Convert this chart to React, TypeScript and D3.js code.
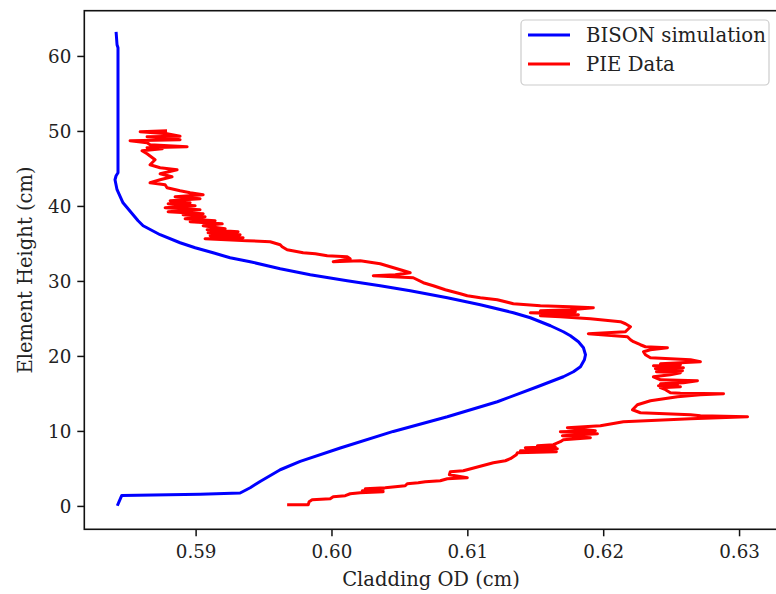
import React from "react";
import * as d3 from "d3";

// ---- Data ----
const bisonOD = [
  0.5842, 0.58433, 0.58453, 0.59029, 0.59324, 0.59398, 0.59471, 0.59619, 0.59766, 0.60061,
  0.60451, 0.60849, 0.61217, 0.61512, 0.61703, 0.61777, 0.61829, 0.61858, 0.61866, 0.61851,
  0.61814, 0.61755, 0.61703, 0.61608, 0.6146, 0.61335, 0.61092, 0.60849, 0.60576, 0.60355,
  0.60112, 0.5984, 0.59619, 0.59398, 0.5925, 0.59125, 0.58993, 0.58882, 0.58735, 0.5861,
  0.58573, 0.58536, 0.58462, 0.58418, 0.58403, 0.58411, 0.58425, 0.58425, 0.58418, 0.58411,
];
const bisonHeight = [
  0.09, 0.63, 1.47, 1.63, 1.79, 2.49, 3.33, 4.89, 6.0, 7.79,
  10.0, 11.96, 13.96, 15.96, 17.29, 17.96, 18.63, 19.56, 20.23, 21.16,
  21.96, 22.76, 23.29, 24.09, 25.16, 25.83, 26.89, 27.83, 28.76, 29.43,
  30.09, 30.89, 31.69, 32.63, 33.16, 33.83, 34.49, 35.16, 36.23, 37.43,
  38.09, 38.89, 40.49, 42.23, 43.56, 44.09, 44.49, 61.16, 61.56, 63.29,
];

const pieOD = [
  0.5967, 0.59825, 0.59832, 0.59854, 0.59987, 0.60009, 0.60098, 0.60134, 0.60208, 0.60377,
  0.60223, 0.60377, 0.60245, 0.60392, 0.60466, 0.60539, 0.60554, 0.60635, 0.60687, 0.60797,
  0.60849, 0.60996, 0.60864, 0.60871, 0.60967, 0.61188, 0.61276, 0.61313, 0.61357, 0.61365,
  0.61652, 0.61387, 0.61659, 0.61423, 0.61644, 0.61512, 0.6163, 0.61681, 0.61703, 0.61902,
  0.61696, 0.61954, 0.61681, 0.61939, 0.61733, 0.61976, 0.62145, 0.62639, 0.63059, 0.62712,
  0.62639, 0.6227, 0.62212, 0.62248, 0.62344, 0.62543, 0.62712, 0.62882, 0.62565, 0.62491,
  0.62455, 0.62418, 0.62565, 0.62403, 0.62543, 0.62418, 0.62587, 0.6269, 0.62418, 0.62366,
  0.62491, 0.62565, 0.62388, 0.6258, 0.62381, 0.62587, 0.62366, 0.62565, 0.62418, 0.62712,
  0.62639, 0.62344, 0.62307, 0.62293, 0.62344, 0.62469, 0.62307, 0.6227, 0.62219, 0.62197,
  0.62175, 0.61887, 0.6216, 0.62197, 0.6216, 0.62123, 0.61902, 0.61681, 0.61534, 0.61814,
  0.6146, 0.61792, 0.61534, 0.61755, 0.61924, 0.61755, 0.61534, 0.61335, 0.61217, 0.61092,
  0.60996, 0.60945, 0.60834, 0.60746, 0.60672, 0.60598, 0.60304, 0.60466, 0.60576, 0.60503,
  0.60429, 0.60355, 0.60208, 0.60009, 0.60134, 0.60112, 0.59965, 0.59877, 0.59788, 0.5967,
  0.59633, 0.59619, 0.59545, 0.59376, 0.59066, 0.59346, 0.59103, 0.59324, 0.59088, 0.59309,
  0.59081, 0.59214, 0.59052, 0.59192, 0.58956, 0.5914, 0.58919, 0.59066, 0.58904, 0.59052,
  0.58794, 0.59029, 0.58772, 0.58993, 0.58794, 0.58956, 0.58809, 0.59029, 0.58845, 0.59052,
  0.58956, 0.58882, 0.58786, 0.58772, 0.58661, 0.58735, 0.58823, 0.58735, 0.5886, 0.58735,
  0.58661, 0.58698, 0.58639, 0.58602, 0.5875, 0.58639, 0.58934, 0.58661, 0.58639, 0.58514,
  0.58882, 0.58772, 0.58639, 0.58882, 0.58786, 0.58588, 0.58786,
];
const pieHeight = [
  0.23, 0.23, 0.63, 0.89, 1.03, 1.29, 1.43, 1.69, 1.83, 1.96,
  2.09, 2.23, 2.36, 2.49, 2.63, 2.76, 3.03, 3.16, 3.29, 3.43,
  3.69, 3.83, 4.23, 4.63, 4.76, 5.83, 6.09, 6.36, 6.89, 7.16,
  7.29, 7.43, 7.69, 7.83, 7.96, 8.09, 8.23, 8.63, 8.89, 9.16,
  9.43, 9.69, 9.96, 10.09, 10.49, 10.76, 11.29, 11.69, 11.96, 12.09,
  12.23, 12.49, 12.89, 13.56, 14.09, 14.63, 14.89, 15.03, 15.1, 15.16,
  15.56, 15.83, 15.96, 16.09, 16.23, 16.36, 16.49, 16.76, 16.89, 17.29,
  17.56, 17.83, 17.96, 18.09, 18.36, 18.49, 18.76, 18.89, 19.03, 19.29,
  19.56, 19.83, 20.23, 20.63, 20.89, 21.16, 21.29, 21.56, 21.96, 22.23,
  22.63, 23.03, 23.29, 23.96, 24.36, 24.63, 25.03, 25.29, 25.43, 25.56,
  25.83, 25.96, 26.09, 26.23, 26.49, 26.63, 26.76, 27.03, 27.56, 27.83,
  28.09, 28.36, 28.89, 29.43, 29.83, 30.49, 30.76, 30.89, 31.16, 31.56,
  31.96, 32.36, 32.76, 32.63, 33.03, 33.29, 33.43, 33.69, 33.83, 34.23,
  34.63, 34.89, 35.29, 35.43, 35.69, 35.83, 36.09, 36.23, 36.49, 36.63,
  36.89, 37.03, 37.43, 37.69, 37.96, 38.09, 38.36, 38.63, 38.89, 39.03,
  39.29, 39.56, 39.83, 40.09, 40.36, 40.49, 40.76, 41.03, 41.29, 41.56,
  41.83, 42.09, 42.49, 42.89, 43.16, 43.56, 43.96, 44.36, 44.89, 45.16,
  45.56, 46.23, 47.03, 47.43, 47.69, 47.83, 47.96, 48.23, 48.49, 48.76,
  48.89, 49.16, 49.29, 49.35, 49.69, 49.96, 50.09,
];

const xTicks = [0.59, 0.6, 0.61, 0.62, 0.63];
const yTicks = [0, 10, 20, 30, 40, 50, 60];
const seriesNames = ["BISON simulation", "PIE Data"];
const seriesColors = ["#0000ff", "#ff0000"];

const W = 776;
const H = 594;
const FONT = "'DejaVu Serif', serif";

export default function App() {
  const x = d3.scaleLinear().domain([0.58177, 0.6328]).range([84.3, 777.6]);
  const y = d3.scaleLinear().domain([-3.05, 66.1]).range([529.3, 10.7]);

  const mk = (xs: number[], ys: number[]) =>
    d3
      .line<number>()
      .x((d) => x(d))
      .y((_, i) => y(ys[i]))(xs) || "";

  const [x0, x1] = x.range();
  const [y0, y1] = y.range();

  return (
    <svg
      width={W}
      height={H}
      style={{ position: "absolute", left: 0, top: 0, background: "#fff" }}
      fontFamily={FONT}
    >
      <rect x={0} y={0} width={W} height={H} fill="#fff" />
      <path d={mk(bisonOD, bisonHeight)} fill="none" stroke={seriesColors[0]} strokeWidth={3} strokeLinejoin="round" />
      <path d={mk(pieOD, pieHeight)} fill="none" stroke={seriesColors[1]} strokeWidth={3} strokeLinejoin="round" />

      {/* spines */}
      <rect x={x0} y={y1} width={x1 - x0} height={y0 - y1} fill="none" stroke="#111" strokeWidth={1.6} />

      {/* x ticks */}
      {xTicks.map((t) => (
        <g key={t} transform={`translate(${x(t)},${y0})`}>
          <line y1={0} y2={7} stroke="#111" strokeWidth={1.5} />
          <text y={29} textAnchor="middle" fontSize={18.3} fill="#222">
            {t.toFixed(2)}
          </text>
        </g>
      ))}
      {/* y ticks */}
      {yTicks.map((t) => (
        <g key={t} transform={`translate(${x0},${y(t)})`}>
          <line x1={0} x2={-7} stroke="#111" strokeWidth={1.5} />
          <text x={-13} y={6.6} textAnchor="end" fontSize={18.3} fill="#222">
            {t}
          </text>
        </g>
      ))}

      <text x={431} y={586} textAnchor="middle" fontSize={19.5} fill="#222">
        Cladding OD (cm)
      </text>
      <text transform={`translate(32,270) rotate(-90)`} textAnchor="middle" fontSize={19.5} fill="#222">
        Element Height (cm)
      </text>

      {/* legend */}
      <g>
        <rect x={521} y={20} width={248} height={65} rx={4} fill="#fff" fillOpacity={0.8} stroke="#cccccc" strokeWidth={1.2} />
        {seriesNames.map((n, i) => (
          <g key={n} transform={`translate(528,${35 + i * 29})`}>
            <line x1={0} x2={42} stroke={seriesColors[i]} strokeWidth={3} />
            <text x={58} y={7} fontSize={19.7} fill="#222">
              {n}
            </text>
          </g>
        ))}
      </g>
    </svg>
  );
}
